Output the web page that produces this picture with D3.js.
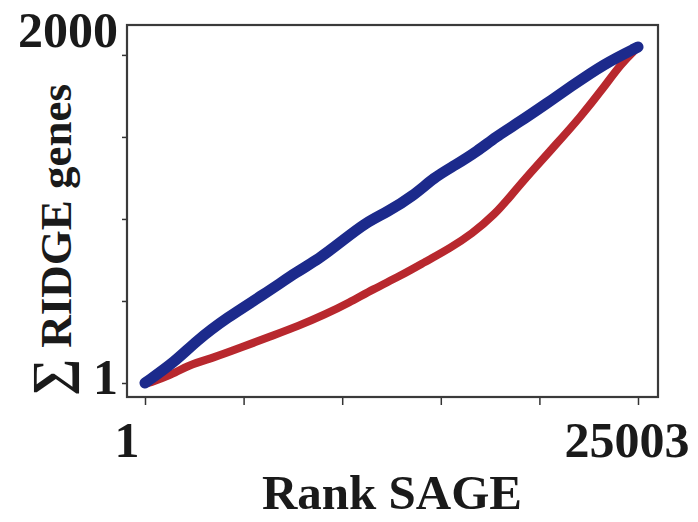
<!DOCTYPE html>
<html>
<head>
<meta charset="utf-8">
<script src="https://cdn.jsdelivr.net/npm/d3@7"></script>
<style>
  body { margin: 0; background: #fff; }
  text { font-family: "Liberation Serif", "Times New Roman", serif; font-weight: bold; fill: #1a1a1a; }
</style>
</head>
<body>
<script>
// cumulative RIDGE genes vs SAGE rank
const blueRank = [1, 1552, 2587, 4139, 6036, 7759, 8795, 10002, 11209, 12243, 13622, 14656, 15691, 16898, 17760, 18967, 20347, 21554, 23278, 25003];
const blueSum  = [1, 130, 250, 389, 528, 667, 737, 846, 956, 1015, 1115, 1224, 1294, 1383, 1463, 1552, 1662, 1761, 1900, 2000];
const redRank = [173, 1208, 2243, 3449, 4829, 6381, 7759, 9139, 10347, 11554, 12932, 14140, 15520, 16554, 17760, 18622, 19485, 20865, 22073, 23278, 24140, 25003];
const redSum  = [1, 41, 110, 150, 210, 279, 339, 409, 478, 558, 637, 717, 807, 886, 1005, 1125, 1244, 1423, 1582, 1761, 1900, 2000];
const xLabels = [1, 25003];
const yLabels = [1, 2000];

function main() {
  const width = 698, height = 522;

  const svg = d3.select("body").append("svg")
    .attr("width", width)
    .attr("height", height);

  const x = d3.scaleLinear().domain([1, 25003]).range([145, 638]);
  const y = d3.scaleLinear().domain([1, 2000]).range([383, 47]);

  // tick marks, evenly spaced like the original
  const xTicks = d3.range(6).map(i => 1 + i * (25003 - 1) / 5);
  const yTicks = d3.range(5).map(i => 1 + i * 488);

  svg.append("g")
    .attr("transform", "translate(0,397)")
    .call(d3.axisBottom(x).tickValues(xTicks).tickSize(8).tickFormat(""))
    .call(g => g.select(".domain").remove())
    .call(g => g.selectAll("line").attr("stroke", "#333").attr("stroke-width", 1.5));

  svg.append("g")
    .attr("transform", "translate(127,0)")
    .call(d3.axisLeft(y).tickValues(yTicks).tickSize(5).tickFormat(""))
    .call(g => g.select(".domain").remove())
    .call(g => g.selectAll("line").attr("stroke", "#333").attr("stroke-width", 1.5));

  // frame
  svg.append("rect")
    .attr("x", 127).attr("y", 25)
    .attr("width", 531).attr("height", 372)
    .attr("fill", "none")
    .attr("stroke", "#3a3a3a")
    .attr("stroke-width", 2.2);

  const line = d3.line().curve(d3.curveBasis);

  svg.append("path")
    .attr("d", line(redRank.map((r, i) => [x(r), y(redSum[i])])))
    .attr("fill", "none")
    .attr("stroke", "#b8282e")
    .attr("stroke-width", 8)
    .attr("stroke-linecap", "round")
    .attr("stroke-linejoin", "round");

  svg.append("path")
    .attr("d", line(blueRank.map((r, i) => [x(r), y(blueSum[i])])))
    .attr("fill", "none")
    .attr("stroke", "#1c2a8c")
    .attr("stroke-width", 11)
    .attr("stroke-linecap", "round")
    .attr("stroke-linejoin", "round");

  // tick labels
  const xdx = [-18, -11];
  svg.selectAll(".xl").data(xLabels).join("text")
    .attr("class", "xl")
    .attr("x", (d, i) => x(d) + xdx[i])
    .attr("y", 457)
    .attr("text-anchor", "middle")
    .attr("font-size", 50)
    .text(d => d);

  const ydy = [11, 0];
  svg.selectAll(".yl").data(yLabels).join("text")
    .attr("class", "yl")
    .attr("x", 118)
    .attr("y", (d, i) => y(d) + ydy[i])
    .attr("text-anchor", "end")
    .attr("font-size", 50)
    .text(d => d);

  // axis titles
  svg.append("text")
    .attr("x", 392).attr("y", 509)
    .attr("text-anchor", "middle")
    .attr("font-size", 49)
    .text("Rank SAGE");

  const yt = svg.append("text")
    .attr("transform", "translate(71,396) rotate(-90)")
    .attr("text-anchor", "start")
    .attr("font-size", 45);
  yt.append("tspan").attr("font-size", 52).attr("dy", -3).text("\u2211");
  yt.append("tspan").attr("dy", 3).text(" RIDGE genes");
}

window.addEventListener("load", main);
</script>
</body>
</html>
